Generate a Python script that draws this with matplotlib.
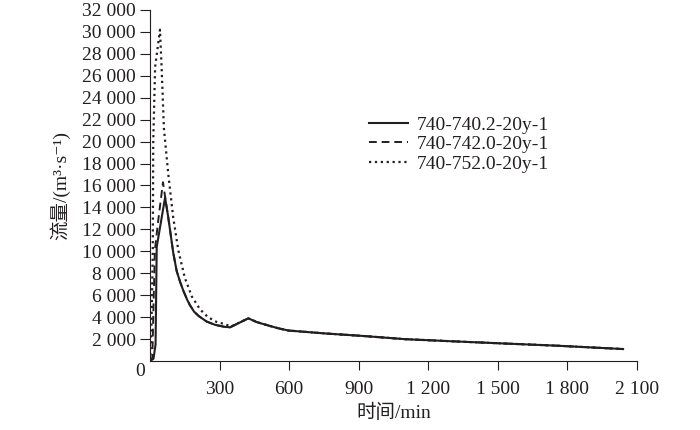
import matplotlib
matplotlib.use("Agg")
import matplotlib.pyplot as plt

# 740-740.2-20y-1
t_a = [0, 15, 24, 29, 65, 78, 90, 100, 115, 130, 144, 160, 172, 190, 210, 244, 280, 320, 345, 424, 460, 503, 550, 596, 750, 920, 1100, 1300, 1500, 1750, 2040]
q_a = [0, 200, 1500, 10400, 14900, 13200, 11400, 9900, 8200, 7200, 6400, 5600, 5100, 4500, 4100, 3600, 3300, 3120, 3070, 3890, 3550, 3280, 3000, 2780, 2520, 2280, 1990, 1800, 1620, 1400, 1090]

# 740-742.0-20y-1
t_b = [0, 10, 14, 21, 36, 56, 72, 78, 90, 100, 115, 130, 144, 160, 172, 190, 210, 244, 280, 320, 345, 424, 460, 503, 550, 596, 750, 920, 1100, 1300, 1500, 1750, 2040]
q_b = [0, 300, 4000, 10100, 12900, 16300, 14000, 13200, 11400, 9900, 8200, 7200, 6400, 5600, 5100, 4500, 4100, 3600, 3300, 3120, 3070, 3890, 3550, 3280, 3000, 2780, 2520, 2280, 1990, 1800, 1620, 1400, 1090]

# 740-752.0-20y-1
t_c = [0, 5, 8, 12, 14, 22, 43, 50, 60, 79, 100, 122, 150, 180, 216, 250, 288, 316, 350, 424, 460, 503, 550, 596, 750, 920, 1100, 1300, 1500, 1750, 2040]
q_c = [0, 2000, 5000, 10000, 20000, 26800, 30200, 26800, 21200, 17000, 13100, 10100, 7600, 5900, 4700, 4000, 3550, 3400, 3150, 3890, 3550, 3280, 3000, 2780, 2520, 2280, 1990, 1800, 1620, 1400, 1090]

labels = ["740-740.2-20y-1", "740-742.0-20y-1", "740-752.0-20y-1"]
x_ticks = [300, 600, 900, 1200, 1500, 1800, 2100]
y_ticks = list(range(2000, 32001, 2000))

ink = "#231f20"
fam = ["Liberation Serif", "Noto Sans CJK SC", "DejaVu Serif"]
plt.rcParams["font.family"] = fam
plt.rcParams["text.color"] = ink

fig = plt.figure(figsize=(7, 4.3), dpi=100)
ax = fig.add_axes([150 / 700, 1 - 361 / 430, 487 / 700, 351 / 430])

ax.plot(t_c, q_c, ":", color=ink, lw=1.6, label=labels[2])
ax.plot(t_b, q_b, "--", color=ink, lw=1.4, dashes=(4, 2.5), label=labels[1])
ax.plot(t_a, q_a, "-", color=ink, lw=1.5, label=labels[0])

ax.set_xlim(0, 2100)
ax.set_ylim(0, 32000)
ax.set_xticks(x_ticks)
ax.set_xticklabels([f"{v:,}".replace(",", " ") for v in x_ticks])
ax.set_yticks(y_ticks)
ax.set_yticklabels([f"{v:,}".replace(",", " ") for v in y_ticks])
ax.tick_params(axis="x", direction="out", length=6.5, width=0.8, pad=8, labelsize=14, colors=ink)
ax.tick_params(axis="y", direction="out", length=7, width=0.8, pad=3, labelsize=14, colors=ink)
for s in ["top", "right"]:
    ax.spines[s].set_visible(False)
for s in ["left", "bottom"]:
    ax.spines[s].set_color(ink)
    ax.spines[s].set_linewidth(0.8)

ax.annotate("0", xy=(0, 0), xytext=(-10, -11), textcoords="offset pixels",
            ha="center", va="center", fontsize=14, color=ink)

ax.set_xlabel("时间/min", fontsize=14, labelpad=4, color=ink)
ax.set_ylabel("流量/(m³·s⁻¹)", fontsize=14, labelpad=6, color=ink)
ax.yaxis.set_label_coords(-80 / 487, 0.5)

h, l = ax.get_legend_handles_labels()
leg = fig.legend(h[::-1], l[::-1], loc="upper left", bbox_to_anchor=(369 / 700, 1 - 116 / 430),
                 frameon=False, fontsize=14, handlelength=2.0, handletextpad=0.45,
                 labelspacing=0.1, borderpad=0, borderaxespad=0)

fig.savefig("out.png", dpi=100)
